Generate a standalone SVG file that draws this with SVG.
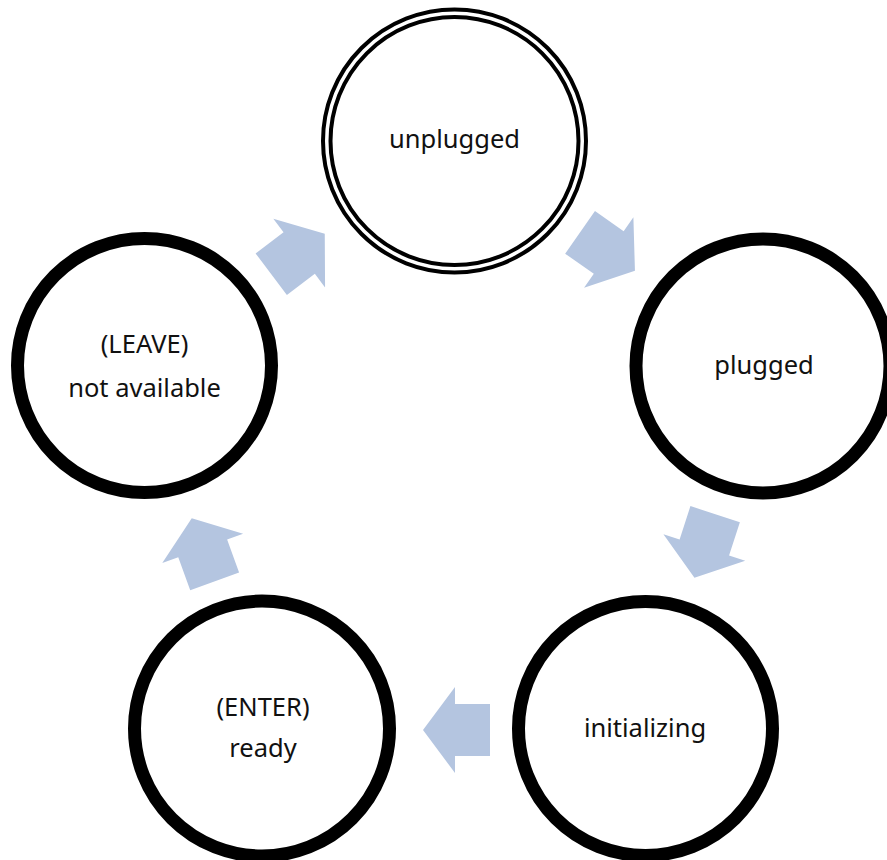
<svg xmlns="http://www.w3.org/2000/svg" width="887" height="860" viewBox="0 0 887 860">
<style>
.ring{fill:#fff;stroke:#000;stroke-width:13}
.thin{fill:none;stroke:#000;stroke-width:4}
.lbl{font-family:"Noto Sans","Open Sans",sans-serif;font-size:25.5px;fill:#111;text-anchor:middle}
.arr{fill:#b4c5e0}
</style>
<defs>
<polygon id="blk" points="-33.5,-26 1.5,-26 1.5,-43 33.5,0 1.5,43 1.5,26 -33.5,26"/>
</defs>
<rect width="887" height="860" fill="#fff"/>
<g id="connectors">
<use href="#blk" class="arr" transform="translate(298,254) rotate(-37)"/>
<use href="#blk" class="arr" transform="translate(607.5,251.6) rotate(35)"/>
<use href="#blk" class="arr" transform="translate(704.8,546) rotate(108)"/>
<use href="#blk" class="arr" transform="translate(456.5,730) rotate(180)"/>
<use href="#blk" class="arr" transform="translate(203.2,549.8) rotate(-110)"/>
</g>
<g id="unplugged">
<circle cx="454.5" cy="141" r="131.5" class="thin" fill="#fff"/>
<circle cx="454.5" cy="141" r="124" class="thin"/>
<text x="454.5" y="148" class="lbl">unplugged</text>
</g>
<g id="plugged">
<circle cx="763" cy="366" r="127" class="ring"/>
<text x="764" y="374" class="lbl">plugged</text>
</g>
<g id="initializing">
<circle cx="645.5" cy="728.5" r="127" class="ring"/>
<text x="645" y="737" class="lbl">initializing</text>
</g>
<g id="ready">
<circle cx="262" cy="728.5" r="127.5" class="ring"/>
<text x="263" y="716" class="lbl">(ENTER)</text>
<text x="263" y="757" class="lbl">ready</text>
</g>
<g id="not-available">
<circle cx="144.5" cy="365.5" r="127" class="ring"/>
<text x="144.5" y="353" class="lbl">(LEAVE)</text>
<text x="144.5" y="397" class="lbl">not available</text>
</g>
</svg>
